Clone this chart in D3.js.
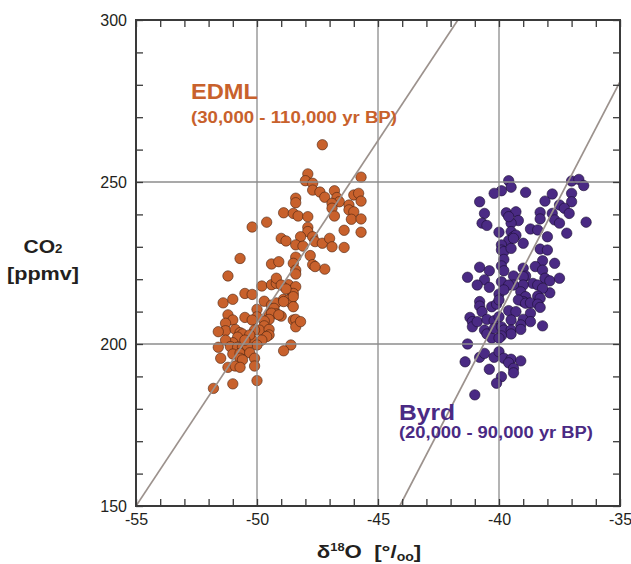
<!DOCTYPE html>
<html>
<head>
<meta charset="utf-8">
<script src="https://cdn.jsdelivr.net/npm/d3@7"></script>
<style>
  body { margin: 0; background: #fff; }
  svg { display: block; }
  text { font-family: "Liberation Sans", Arial, Helvetica, sans-serif; }
</style>
</head>
<body>
<svg id="chart" width="631" height="564"></svg>
<script>
// EDML ice core: [δ18O (‰), CO2 (ppmv)]
const edmlPoints = [
  [-47.3,261.5],[-47.9,252.5],[-48.0,250.4],[-47.7,249.6],[-47.7,247.5],[-47.4,246.9],[-47.2,245.3],[-46.8,247.3],
  [-45.7,251.5],[-46.0,246.0],[-45.8,246.5],[-45.7,244.1],[-48.4,245.0],[-48.4,243.6],[-46.7,245.2],[-46.6,243.9],
  [-46.9,243.4],[-46.9,241.9],[-46.2,242.9],[-46.2,241.4],[-46.0,240.8],[-46.8,239.5],[-46.1,238.5],[-45.7,238.6],
  [-48.9,240.5],[-48.5,240.3],[-48.3,239.5],[-47.9,239.3],[-49.6,237.6],[-50.2,236.1],[-47.9,236.0],[-47.9,234.7],
  [-46.4,235.1],[-45.7,234.5],[-49.0,232.6],[-48.8,231.8],[-48.2,233.1],[-47.7,233.1],[-47.6,231.6],[-47.3,231.1],
  [-47.0,232.6],[-46.9,230.0],[-46.4,229.8],[-48.4,230.6],[-48.1,230.2],[-47.8,227.3],[-50.7,226.4],[-49.4,224.7],
  [-49.1,225.4],[-48.4,226.8],[-48.5,224.9],[-47.7,224.5],[-47.2,223.1],[-48.4,222.8],[-48.4,221.6],[-47.6,223.9],
  [-51.2,221.0],[-49.8,217.9],[-49.4,218.3],[-49.2,218.7],[-49.2,220.3],[-48.7,218.3],[-48.6,216.5],[-48.4,217.7],
  [-48.5,215.6],[-50.5,215.6],[-50.2,215.3],[-51.4,212.7],[-51.0,213.8],[-49.7,213.2],[-49.4,212.0],[-49.2,212.7],
  [-48.9,213.8],[-48.7,213.6],[-48.6,212.7],[-48.5,214.6],[-49.4,210.5],[-49.3,211.0],[-49.2,209.3],[-49.0,208.6],
  [-50.0,210.7],[-50.0,208.4],[-51.2,209.0],[-51.0,207.4],[-51.3,206.4],[-51.3,204.1],[-51.6,203.8],[-50.5,208.2],
  [-49.5,209.0],[-49.4,209.5],[-49.5,207.6],[-49.7,207.1],[-49.7,205.6],[-49.9,204.3],[-49.5,204.5],[-49.5,202.8],
  [-49.6,202.3],[-48.5,207.4],[-48.4,207.6],[-48.4,205.3],[-50.9,204.5],[-50.7,203.5],[-50.6,203.1],[-50.8,202.1],
  [-51.0,200.4],[-51.3,201.2],[-50.2,201.2],[-49.8,201.2],[-50.0,199.7],[-51.6,199.0],[-51.1,199.2],[-50.8,199.0],
  [-50.6,199.0],[-50.4,199.4],[-48.6,199.7],[-48.9,197.9],[-51.5,195.6],[-51.0,196.9],[-50.7,197.1],[-50.3,197.3],
  [-50.1,195.6],[-50.7,195.6],[-50.6,195.1],[-51.2,192.8],[-50.9,193.2],[-50.7,192.8],[-50.1,193.2],[-50.0,188.7],
  [-51.0,187.7],[-51.8,186.3],[-48.2,206.9],[-49.0,218.2],[-48.8,217.0],[-48.9,213.1],[-48.5,211.5],[-49.1,209.0],
  [-50.2,207.4],[-50.1,204.3],[-50.3,202.8],[-50.5,201.2]
];

// Byrd ice core: [δ18O (‰), CO2 (ppmv)]
const byrdPoints = [
  [-39.6,250.4],[-39.5,248.4],[-39.9,247.3],[-40.2,246.5],[-38.9,246.8],[-40.8,243.9],[-40.6,240.3],[-40.7,237.3],
  [-40.5,236.6],[-39.7,240.5],[-39.3,240.8],[-39.2,238.1],[-39.5,237.3],[-39.6,239.3],[-40.0,234.5],[-39.5,234.7],
  [-39.4,233.1],[-39.3,233.6],[-39.6,231.9],[-39.4,232.6],[-39.9,230.6],[-39.9,229.0],[-39.8,228.5],[-39.5,229.5],
  [-39.0,231.1],[-38.7,235.5],[-38.4,235.2],[-38.3,240.6],[-38.3,238.6],[-38.1,244.1],[-37.8,246.3],[-38.0,233.1],
  [-38.3,229.3],[-38.0,229.0],[-37.0,250.3],[-36.7,250.8],[-36.5,248.9],[-37.0,246.5],[-37.0,243.9],[-37.5,242.9],
  [-37.3,241.9],[-37.8,240.3],[-37.7,238.3],[-37.5,237.3],[-37.1,240.3],[-36.4,237.6],[-37.2,234.2],[-37.7,224.9],
  [-38.2,225.7],[-39.8,226.1],[-38.5,223.9],[-38.2,222.8],[-39.0,223.4],[-38.9,221.0],[-39.4,221.0],[-39.0,220.8],
  [-40.8,223.7],[-40.4,222.6],[-40.6,219.8],[-41.3,220.6],[-39.9,224.1],[-39.8,222.6],[-38.1,220.3],[-37.9,219.5],
  [-37.5,220.3],[-38.6,218.7],[-38.4,218.2],[-39.0,218.2],[-40.9,218.2],[-40.4,217.5],[-39.9,219.2],[-39.4,218.2],
  [-37.9,215.8],[-38.2,217.2],[-39.6,218.2],[-40.0,215.4],[-39.8,216.7],[-39.1,216.1],[-38.9,214.6],[-39.0,213.1],
  [-38.4,214.8],[-38.3,214.1],[-39.2,213.6],[-40.8,213.1],[-40.8,211.7],[-40.7,210.0],[-40.3,211.5],[-40.1,212.3],
  [-40.0,213.6],[-38.9,212.6],[-38.7,212.7],[-38.4,212.3],[-38.3,211.3],[-39.6,210.3],[-39.3,210.0],[-38.7,209.5],
  [-41.2,208.2],[-41.1,206.9],[-41.1,205.3],[-40.9,206.9],[-40.5,207.6],[-40.2,207.2],[-40.0,208.4],[-39.5,207.4],
  [-39.0,207.6],[-38.7,206.9],[-40.6,204.3],[-40.5,203.1],[-40.3,201.8],[-40.2,204.8],[-39.9,205.3],[-39.8,204.3],
  [-39.5,204.3],[-39.5,203.1],[-39.9,202.5],[-40.0,201.8],[-39.1,205.9],[-39.1,204.5],[-38.2,205.6],[-41.3,200.0],
  [-41.4,194.5],[-40.8,195.9],[-40.6,197.1],[-40.2,195.9],[-40.0,197.6],[-39.8,195.6],[-39.5,195.3],[-39.6,194.2],
  [-39.4,192.5],[-39.4,191.1],[-39.1,194.8],[-40.4,192.2],[-39.9,189.9],[-40.1,187.9],[-41.0,184.3]
];

// Linear fits, given by two end points each
const edmlFit = [[-55, 150], [-41.7, 300]];
const byrdFit = [[-44.1, 150], [-35, 281]];

const xTicks = d3.range(-55, -34, 1);
const yTicks = d3.range(150, 301, 10);
const xGrid = [-50, -45, -40];
const yGrid = [200, 250];

const edmlColor = "#c8612c", edmlEdge = "#4a2410";
const byrdColor = "#4a2a84", byrdEdge = "#1b0e33";

const plot = { left: 136, right: 620, top: 20, bottom: 506 };
const svg = d3.select("#chart");

const x = d3.scaleLinear().domain([-55, -35]).range([plot.left, plot.right]);
const y = d3.scaleLinear().domain([150, 300]).range([plot.bottom, plot.top]);

svg.append("defs").append("clipPath").attr("id", "plotClip")
  .append("rect")
  .attr("x", plot.left).attr("y", plot.top)
  .attr("width", plot.right - plot.left).attr("height", plot.bottom - plot.top);

// scatter points
function drawPoints(data, fill, edge) {
  svg.append("g").selectAll("circle").data(data).join("circle")
    .attr("cx", d => x(d[0]))
    .attr("cy", d => y(d[1]))
    .attr("r", 5.2)
    .attr("fill", fill)
    .attr("stroke", edge)
    .attr("stroke-width", 0.6);
}
drawPoints(edmlPoints, edmlColor, edmlEdge);
drawPoints(byrdPoints, byrdColor, byrdEdge);

// grid lines
const grid = svg.append("g").attr("stroke", "#8c8c8c").attr("stroke-width", 1.3);
grid.selectAll(".gx").data(xGrid).join("line")
  .attr("x1", d => x(d)).attr("x2", d => x(d))
  .attr("y1", plot.top).attr("y2", plot.bottom);
grid.selectAll(".gy").data(yGrid).join("line")
  .attr("y1", d => y(d)).attr("y2", d => y(d))
  .attr("x1", plot.left).attr("x2", plot.right);

// regression lines
const line = d3.line().x(d => x(d[0])).y(d => y(d[1]));
svg.append("g").attr("clip-path", "url(#plotClip)")
  .selectAll("path").data([edmlFit, byrdFit]).join("path")
  .attr("d", line)
  .attr("fill", "none")
  .attr("stroke", "#9c928d")
  .attr("stroke-width", 1.7);

// axes with inward ticks
function styleAxis(g) {
  g.select(".domain").remove();
  g.selectAll(".tick line").attr("stroke", "#3a3a3a").attr("stroke-width", 1.3);
  g.selectAll(".tick text").attr("fill", "#231f20").attr("font-size", 16)
    .style("font-family", '"Liberation Sans", Arial, sans-serif');
}
const lab5 = d => (d % 5 === 0 ? String(d) : "");
const lab50 = d => (d % 50 === 0 ? String(d) : "");

svg.append("g").attr("transform", `translate(0,${plot.bottom})`)
  .call(d3.axisBottom(x).tickValues(xTicks).tickSize(-7).tickSizeOuter(0).tickPadding(8).tickFormat(lab5))
  .call(styleAxis);
svg.append("g").attr("transform", `translate(0,${plot.top})`)
  .call(d3.axisTop(x).tickValues(xTicks).tickSize(-7).tickSizeOuter(0).tickFormat(""))
  .call(styleAxis);
svg.append("g").attr("transform", `translate(${plot.left},0)`)
  .call(d3.axisLeft(y).tickValues(yTicks).tickSize(-7).tickSizeOuter(0).tickPadding(9).tickFormat(lab50))
  .call(styleAxis);
svg.append("g").attr("transform", `translate(${plot.right},0)`)
  .call(d3.axisRight(y).tickValues(yTicks).tickSize(-7).tickSizeOuter(0).tickFormat(""))
  .call(styleAxis);

// frame
svg.append("rect")
  .attr("x", plot.left).attr("y", plot.top)
  .attr("width", plot.right - plot.left).attr("height", plot.bottom - plot.top)
  .attr("fill", "none").attr("stroke", "#3a3a3a").attr("stroke-width", 2);

// series labels
function label(tx, ty, txt, size, len, color) {
  svg.append("text")
    .attr("x", tx).attr("y", ty)
    .attr("font-size", size).attr("font-weight", "bold")
    .attr("fill", color)
    .attr("textLength", len).attr("lengthAdjust", "spacingAndGlyphs")
    .text(txt);
}
label(191, 98.5, "EDML", 22, 67, edmlColor);
label(191, 123, "(30,000 - 110,000 yr BP)", 16, 206, edmlColor);
label(399, 420, "Byrd", 22, 56, byrdColor);
label(399, 437.5, "(20,000 - 90,000 yr BP)", 16, 194, byrdColor);

// y axis title
const yt = svg.append("g").attr("fill", "#231f20").attr("font-weight", "bold");
const co2 = yt.append("text").attr("x", 43).attr("y", 253).attr("text-anchor", "middle")
  .attr("font-size", 19).attr("textLength", 39).attr("lengthAdjust", "spacingAndGlyphs");
co2.append("tspan").text("CO");
co2.append("tspan").attr("font-size", 12).text("2");
yt.append("text").attr("x", 43).attr("y", 280).attr("text-anchor", "middle")
  .attr("font-size", 19).attr("textLength", 72).attr("lengthAdjust", "spacingAndGlyphs")
  .text("[ppmv]");

// x axis title
const xt = svg.append("g")
  .attr("transform", "translate(369,558) scale(1.17,1)")
  .append("text").attr("text-anchor", "middle")
  .attr("fill", "#231f20").attr("font-weight", "bold").attr("font-size", 19)
  .style("white-space", "pre");
xt.append("tspan").text("δ");
xt.append("tspan").attr("font-size", 11).attr("dy", -7).text("18");
xt.append("tspan").attr("dy", 7).text("O  [°/");
xt.append("tspan").attr("font-size", 12).attr("dy", 3).text("oo");
xt.append("tspan").attr("dy", -3).text("]");
</script>
</body>
</html>
